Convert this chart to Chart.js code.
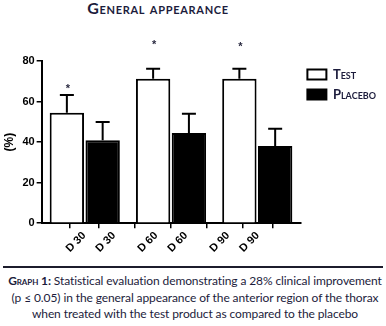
<!DOCTYPE html>
<html>
<head>
<meta charset="utf-8">
<script src="https://cdn.jsdelivr.net/npm/chart.js@4"></script>
<style>
  html, body { margin: 0; padding: 0; background: #fff; }
  body { width: 386px; height: 326px; position: relative; overflow: hidden; }
  #title { position: absolute; left: 0; top: -2px; width: 316px; text-align: center; letter-spacing: 0.7px;
    font: bold 16px Lato, sans-serif; font-variant: small-caps; color: #1c1c3c; }
  #wrap { position: absolute; left: 0; top: 0; width: 386px; height: 262px; }
  #rule { position: absolute; left: 3px; top: 266px; width: 380px; height: 1.5px; background: #1c1c2c; }
  #caption { position: absolute; left: 4px; top: 273px; width: 382px; text-align: center; white-space: nowrap;
    letter-spacing: -0.1px; font: 12px/16.5px Lato, sans-serif; color: #1c1c3c; }
  #caption .g { font-variant: small-caps; font-weight: bold; }
</style>
</head>
<body>
<div id="title">General appearance</div>
<div id="wrap"><canvas id="c"></canvas></div>
<div id="rule"></div>
<div id="caption"><span class="g">Graph 1:</span> Statistical evaluation demonstrating a 28% clinical improvement<br>(p ≤ 0.05) in the general appearance of the anterior region of the thorax<br>when treated with the test product as compared to the placebo</div>
<script>
// ---- data ----
const groups = ['D 30', 'D 60', 'D 90'];
const barLabels = ['D 30', 'D 30', 'D 60', 'D 60', 'D 90', 'D 90'];
const testValues = [54.5, 71.3, 71.3];
const testErrors = [8.7, 4.9, 4.9];
const placeboValues = [40.9, 44.5, 38.1];
const placeboErrors = [9.0, 9.5, 8.5];
const asteriskLevels = [67, 89, 88];   // height of the significance star above each Test bar (in %)
const yTicks = [0, 20, 40, 60, 80];

const CAT_PCT = 0.83;

const errorBars = {
  id: 'errorBars',
  afterDatasetsDraw(chart) {
    const ctx = chart.ctx;
    const y = chart.scales.y;
    ctx.save();
    ctx.strokeStyle = '#000';
    ctx.lineWidth = 2;
    chart.data.datasets.forEach((ds, di) => {
      const meta = chart.getDatasetMeta(di);
      meta.data.forEach((bar, i) => {
        const top = y.getPixelForValue(ds.data[i] + ds.errors[i]);
        ctx.beginPath();
        ctx.moveTo(bar.x, bar.y);
        ctx.lineTo(bar.x, top);
        ctx.moveTo(bar.x - 7, top);
        ctx.lineTo(bar.x + 7, top);
        ctx.stroke();
      });
    });
    ctx.restore();
  }
};

const stars = {
  id: 'stars',
  afterDraw(chart) {
    const ctx = chart.ctx;
    const y = chart.scales.y;
    const meta = chart.getDatasetMeta(0);
    ctx.save();
    ctx.fillStyle = '#2a2a40';
    ctx.font = 'bold 11px Arial';
    ctx.textAlign = 'center';
    ctx.textBaseline = 'middle';
    meta.data.forEach((bar, i) => {
      ctx.fillText('*', bar.x + 1, y.getPixelForValue(asteriskLevels[i]) + 2);
    });
    ctx.restore();
  }
};

new Chart(document.getElementById('c'), {
  type: 'bar',
  data: {
    labels: groups,
    datasets: [
      { label: 'Test', data: testValues, errors: testErrors,
        backgroundColor: '#fff', borderColor: '#000', borderWidth: 2 },
      { label: 'Placebo', data: placeboValues, errors: placeboErrors,
        backgroundColor: '#000', borderColor: '#000', borderWidth: 2 }
    ]
  },
  options: {
    responsive: true,
    maintainAspectRatio: false,
    animation: false,
    events: [],
    categoryPercentage: CAT_PCT,
    barPercentage: 0.96,
    layout: { padding: { top: 61, bottom: 6, left: 0, right: 0 } },
    plugins: {
      title: { display: false },
      tooltip: { enabled: false },
      legend: {
        position: 'right',
        align: 'start',
        labels: {
          boxWidth: 19,
          boxHeight: 10,
          padding: 7,
          color: '#1c1c3c',
          font: { family: "Lato, sans-serif", size: 13, weight: 'small-caps bold' }
        }
      }
    },
    scales: {
      x: { display: false, offset: true, grid: { display: false } },
      x2: {
        type: 'linear',
        position: 'bottom',
        min: -0.5,
        max: groups.length - 0.5,
        afterBuildTicks(axis) {
          const off = CAT_PCT / 4;
          const t = [];
          groups.forEach((g, i) => { t.push({ value: i - off }); t.push({ value: i + off }); });
          axis.ticks = t;
        },
        ticks: {
          autoSkip: false,
          maxRotation: 45,
          minRotation: 45,
          padding: 1,
          color: '#000',
          font: { family: 'Arial', size: 11, weight: 'bold' },
          callback: (v, i) => barLabels[i]
        },
        grid: { drawOnChartArea: false, tickLength: 5, color: '#000', lineWidth: 1.5 },
        border: { color: '#000', width: 2 }
      },
      y: {
        min: 0,
        max: 80,
        afterBuildTicks(axis) { axis.ticks = yTicks.map(v => ({ value: v })); },
        ticks: { color: '#000', padding: 2, font: { family: 'Arial', size: 11, weight: 'bold' } },
        grid: { drawOnChartArea: false, tickLength: 5, color: '#000', lineWidth: 1.5 },
        border: { color: '#000', width: 2 },
        title: { display: true, text: '(%)', color: '#000', padding: { top: 2, bottom: 4 },
          font: { family: 'Arial', size: 12, weight: 'bold' } }
      }
    }
  },
  plugins: [errorBars, stars]
});
</script>
</body>
</html>
